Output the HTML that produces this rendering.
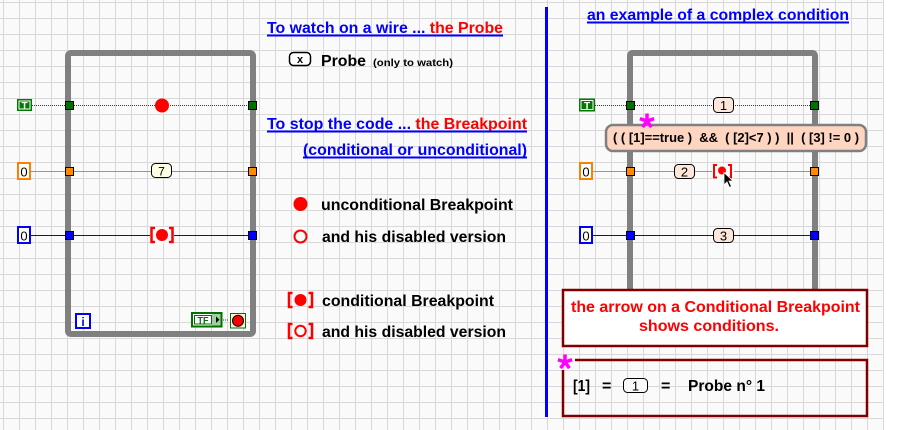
<!DOCTYPE html>
<html><head><meta charset="utf-8"><style>
html,body{margin:0;padding:0;background:#fff;}
svg{display:block;}
text{font-family:"Liberation Sans",Arial,sans-serif;}
</style></head><body>
<svg width="912" height="430" viewBox="0 0 912 430" xmlns="http://www.w3.org/2000/svg">
<defs>
<pattern id="g" x="3" y="2" width="16" height="16" patternUnits="userSpaceOnUse">
<rect width="16" height="16" fill="#fafafa"/>
<rect width="16" height="1" fill="#d9d9d9"/>
<rect width="1" height="16" fill="#d9d9d9"/>
</pattern>
</defs>
<rect x="0" y="0" width="884" height="430" fill="url(#g)"/>

<!-- ===== LEFT STRUCTURE ===== -->
<rect x="68" y="53" width="185" height="281" rx="3" fill="none" stroke="#808080" stroke-width="6"/>

<!-- green dotted wire -->
<line x1="32" y1="105.5" x2="250" y2="105.5" stroke="#006400" stroke-width="1" stroke-dasharray="1,1"/>
<rect x="17" y="99" width="15" height="12" fill="#007a00"/>
<rect x="19" y="101" width="11" height="8" fill="none" stroke="#fff" stroke-width="1"/>
<text x="24.5" y="108.8" font-size="10" font-weight="bold" fill="#fff" text-anchor="middle">T</text>
<rect x="65.5" y="101.5" width="8" height="8" fill="#007000" stroke="#000" stroke-width="1"/>
<rect x="248.5" y="101.5" width="8" height="8" fill="#007000" stroke="#000" stroke-width="1"/>
<circle cx="162" cy="105.5" r="7" fill="#ff0000"/>

<!-- orange wire -->
<line x1="30" y1="171.5" x2="250" y2="171.5" stroke="#ff8000" stroke-width="1"/>
<rect x="18" y="163" width="12" height="16" fill="#fff" stroke="#ff8000" stroke-width="2"/>
<text x="24" y="176.5" font-size="13" fill="#000" text-anchor="middle">0</text>
<rect x="65.5" y="167.5" width="8" height="8" fill="#ff8c00" stroke="#000" stroke-width="1"/>
<rect x="248.5" y="167.5" width="8" height="8" fill="#ff8c00" stroke="#000" stroke-width="1"/>
<rect x="151.5" y="163.5" width="20" height="14" rx="4" fill="#ffffe6" stroke="#000" stroke-width="1"/>
<text x="161.5" y="175.5" font-size="12" fill="#000" text-anchor="middle">7</text>

<!-- blue wire -->
<line x1="30" y1="235.5" x2="250" y2="235.5" stroke="#0000ff" stroke-width="1"/>
<rect x="18" y="227" width="12" height="16" fill="#fff" stroke="#0000ff" stroke-width="2"/>
<text x="24" y="240.5" font-size="13" fill="#000" text-anchor="middle">0</text>
<rect x="65.5" y="231.5" width="8" height="8" fill="#0000ff" stroke="#000" stroke-width="1"/>
<rect x="248.5" y="231.5" width="8" height="8" fill="#0000ff" stroke="#000" stroke-width="1"/>
<rect x="150" y="227" width="24" height="16" fill="#fafafa"/>
<path d="M155,228 H151.5 V242 H155" fill="none" stroke="#ff0000" stroke-width="2.5"/>
<path d="M169,228 H172.5 V242 H169" fill="none" stroke="#ff0000" stroke-width="2.5"/>
<circle cx="162" cy="235" r="6" fill="#ff0000"/>

<!-- iteration terminal -->
<rect x="76" y="314" width="14" height="14" fill="#fff" stroke="#0000ff" stroke-width="2"/>
<text x="83" y="326" font-size="12" font-weight="bold" fill="#0000ff" text-anchor="middle">i</text>

<!-- TF + stop -->
<rect x="192" y="313" width="29.5" height="13.5" fill="#fff" stroke="#007000" stroke-width="2"/>
<rect x="194.5" y="315.5" width="17" height="8.5" fill="#fff" stroke="#007000" stroke-width="1"/>
<text x="203" y="323.5" font-size="9" font-weight="bold" fill="#007000" text-anchor="middle">TF</text>
<rect x="212" y="314" width="8.5" height="11.5" fill="#9fd09f"/>
<path d="M216,316.5 L219.5,319.7 L216,323 Z" fill="#000"/>
<line x1="223" y1="320" x2="229" y2="320" stroke="#007000" stroke-width="1" stroke-dasharray="1,1"/>
<rect x="230.5" y="313.5" width="15" height="14.5" fill="#f6f6dc" stroke="#007000" stroke-width="1"/>
<circle cx="238" cy="320.7" r="5.5" fill="#ff0000" stroke="#000" stroke-width="1"/>

<!-- ===== MIDDLE TEXT ===== -->
<text x="267" y="33" font-size="15.5" font-weight="bold" textLength="236" lengthAdjust="spacingAndGlyphs"><tspan fill="#0000ff">To watch on a wire ... </tspan><tspan fill="#ff0000">the Probe</tspan></text>
<rect x="267" y="34.5" width="236" height="2" fill="#0000ff"/>

<rect x="289.5" y="52.5" width="21" height="13" rx="4" fill="#fff" stroke="#000" stroke-width="1.5"/>
<text x="300" y="63" font-size="11" font-weight="bold" fill="#000" text-anchor="middle">x</text>
<text x="321" y="66" font-size="15.5" font-weight="bold" fill="#000" textLength="45" lengthAdjust="spacingAndGlyphs">Probe</text>
<text x="373" y="66" font-size="10" font-weight="bold" fill="#000" textLength="80" lengthAdjust="spacingAndGlyphs">(only to watch)</text>

<text x="267" y="129" font-size="15.5" font-weight="bold" textLength="260" lengthAdjust="spacingAndGlyphs"><tspan fill="#0000ff">To stop the code ... </tspan><tspan fill="#ff0000">the Breakpoint</tspan></text>
<rect x="267" y="130.5" width="260" height="2" fill="#0000ff"/>
<text x="303" y="155" font-size="15.5" font-weight="bold" fill="#0000ff" textLength="224" lengthAdjust="spacingAndGlyphs">(conditional or unconditional)</text>
<rect x="303" y="156.5" width="224" height="2" fill="#0000ff"/>

<circle cx="300.5" cy="204" r="7" fill="#ff0000"/>
<text x="321" y="210" font-size="15.5" font-weight="bold" fill="#000" textLength="192" lengthAdjust="spacingAndGlyphs">unconditional Breakpoint</text>
<circle cx="300.5" cy="236.5" r="6" fill="none" stroke="#ff0000" stroke-width="2"/>
<text x="322" y="242" font-size="15.5" font-weight="bold" fill="#000" textLength="184" lengthAdjust="spacingAndGlyphs">and his disabled version</text>

<path d="M292.5,293 H289 V307 H292.5" fill="none" stroke="#ff0000" stroke-width="2.5"/>
<path d="M308.5,293 H312 V307 H308.5" fill="none" stroke="#ff0000" stroke-width="2.5"/>
<circle cx="300.5" cy="300" r="6" fill="#ff0000"/>
<text x="322" y="306" font-size="15.5" font-weight="bold" fill="#000" textLength="172" lengthAdjust="spacingAndGlyphs">conditional Breakpoint</text>

<path d="M292.5,324 H289 V338 H292.5" fill="none" stroke="#ff0000" stroke-width="2.5"/>
<path d="M308.5,324 H312 V338 H308.5" fill="none" stroke="#ff0000" stroke-width="2.5"/>
<circle cx="300.5" cy="331" r="5.2" fill="none" stroke="#ff0000" stroke-width="2"/>
<text x="322" y="337" font-size="15.5" font-weight="bold" fill="#000" textLength="184" lengthAdjust="spacingAndGlyphs">and his disabled version</text>

<!-- divider -->
<rect x="545" y="7" width="3" height="410" fill="#0000ff"/>

<!-- ===== RIGHT ===== -->
<text x="587" y="20" font-size="15.5" font-weight="bold" fill="#0000ff" textLength="262" lengthAdjust="spacingAndGlyphs">an example of a complex condition</text>
<rect x="587" y="21.5" width="262" height="2" fill="#0000ff"/>

<path d="M630,300 V56 Q630,53 633,53 H812 Q815,53 815,56 V300" fill="none" stroke="#808080" stroke-width="6"/>

<!-- green -->
<line x1="595" y1="105.5" x2="812" y2="105.5" stroke="#006400" stroke-width="1" stroke-dasharray="1,1"/>
<rect x="579" y="98.5" width="16" height="13" fill="#007a00"/>
<rect x="581" y="100.5" width="12" height="9" fill="none" stroke="#fff" stroke-width="1"/>
<text x="587" y="109" font-size="10" font-weight="bold" fill="#fff" text-anchor="middle">T</text>
<rect x="626.5" y="101.5" width="8" height="8" fill="#007000" stroke="#000" stroke-width="1"/>
<rect x="810.5" y="101.5" width="8" height="8" fill="#007000" stroke="#000" stroke-width="1"/>
<rect x="713.5" y="97.5" width="20" height="15" rx="4" fill="#fde6da" stroke="#000" stroke-width="1"/>
<text x="723.5" y="110" font-size="13" fill="#000" text-anchor="middle">1</text>

<!-- orange -->
<line x1="593" y1="171.5" x2="812" y2="171.5" stroke="#ff8000" stroke-width="1"/>
<rect x="580" y="163" width="12" height="16" fill="#fff" stroke="#ff8000" stroke-width="2"/>
<text x="586" y="176.5" font-size="13" fill="#000" text-anchor="middle">0</text>
<rect x="626.5" y="167.5" width="8" height="8" fill="#ff8c00" stroke="#000" stroke-width="1"/>
<rect x="810.5" y="167.5" width="8" height="8" fill="#ff8c00" stroke="#000" stroke-width="1"/>
<rect x="674.5" y="164.5" width="20" height="14" rx="4" fill="#fde6da" stroke="#000" stroke-width="1"/>
<text x="684.5" y="176.5" font-size="13" fill="#000" text-anchor="middle">2</text>
<rect x="712" y="164" width="22" height="15" fill="#fafafa"/>
<path d="M717,165 H714 V177.5 H717" fill="none" stroke="#ff0000" stroke-width="2"/>
<path d="M728,165 H731 V177.5 H728" fill="none" stroke="#ff0000" stroke-width="2"/>
<circle cx="722" cy="170.5" r="4" fill="#ff0000"/>
<path d="M724,172.5 L724,185 L727,182 L729.5,187.5 L731.5,186.5 L729,181 L733,181 Z" fill="#000" stroke="#fff" stroke-width="0.8"/>

<!-- blue -->
<line x1="592" y1="235.5" x2="812" y2="235.5" stroke="#0000ff" stroke-width="1"/>
<rect x="580" y="227" width="12" height="16" fill="#fff" stroke="#0000ff" stroke-width="2"/>
<text x="586" y="240.5" font-size="13" fill="#000" text-anchor="middle">0</text>
<rect x="626.5" y="231.5" width="8" height="8" fill="#0000ff" stroke="#000" stroke-width="1"/>
<rect x="810.5" y="231.5" width="8" height="8" fill="#0000ff" stroke="#000" stroke-width="1"/>
<rect x="713.5" y="228.5" width="20" height="14" rx="4" fill="#fde6da" stroke="#000" stroke-width="1"/>
<text x="723.5" y="240.5" font-size="13" fill="#000" text-anchor="middle">3</text>

<!-- condition bubble -->
<rect x="606" y="125" width="260" height="26" rx="7" fill="#fdd5c0" stroke="#808080" stroke-width="2.5"/>
<text x="613" y="142" font-size="13" font-weight="bold" fill="#000" textLength="246" lengthAdjust="spacingAndGlyphs" xml:space="preserve">( ( [1]==true )  &amp;&amp;  ( [2]&lt;7 ) )  ||  ( [3] != 0 )</text>
<g stroke="#ff00ff" stroke-width="3.5" transform="translate(647,121)">
<line x1="0" y1="0" x2="0" y2="-7.5"/>
<line x1="0" y1="0" x2="7.1" y2="-2.3"/>
<line x1="0" y1="0" x2="-7.1" y2="-2.3"/>
<line x1="0" y1="0" x2="4.4" y2="6.1"/>
<line x1="0" y1="0" x2="-4.4" y2="6.1"/>
</g>

<!-- red box -->
<rect x="563" y="290" width="304" height="56" fill="#fff" stroke="#800000" stroke-width="2.5"/>
<text x="571" y="312" font-size="15.5" font-weight="bold" fill="#ff0000" textLength="289" lengthAdjust="spacingAndGlyphs">the arrow on a Conditional Breakpoint</text>
<text x="639" y="331" font-size="15.5" font-weight="bold" fill="#ff0000" textLength="140" lengthAdjust="spacingAndGlyphs">shows conditions.</text>

<!-- lower box -->
<path d="M575,360 H867 V416 H563 V370" fill="none" stroke="#800000" stroke-width="2.5"/>
<g stroke="#ff00ff" stroke-width="3.5" transform="translate(565,362)">
<line x1="0" y1="0" x2="0" y2="-7.5"/>
<line x1="0" y1="0" x2="7.1" y2="-2.3"/>
<line x1="0" y1="0" x2="-7.1" y2="-2.3"/>
<line x1="0" y1="0" x2="4.4" y2="6.1"/>
<line x1="0" y1="0" x2="-4.4" y2="6.1"/>
</g>
<text x="573" y="391" font-size="16" font-weight="bold" fill="#000" textLength="17" lengthAdjust="spacingAndGlyphs">[1]</text>
<text x="602" y="391" font-size="16" font-weight="bold" fill="#000">=</text>
<rect x="623.5" y="378.5" width="24" height="14" rx="4" fill="#fafafa" stroke="#000" stroke-width="1"/>
<text x="635.5" y="390.5" font-size="13" fill="#000" text-anchor="middle">1</text>
<text x="661" y="391" font-size="16" font-weight="bold" fill="#000">=</text>
<text x="688" y="391" font-size="16" font-weight="bold" fill="#000" textLength="77" lengthAdjust="spacingAndGlyphs">Probe n° 1</text>
</svg>
</body></html>
